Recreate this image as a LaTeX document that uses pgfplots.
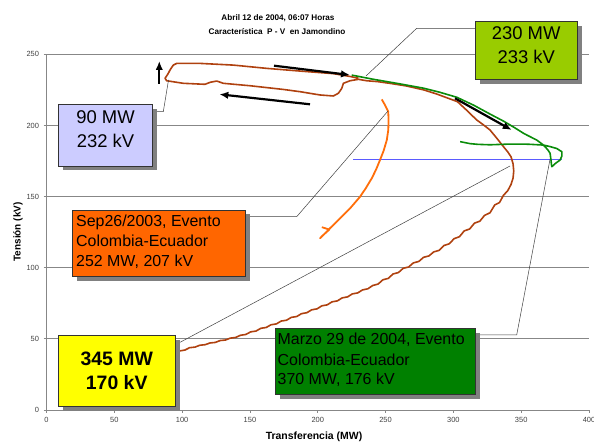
\documentclass[border=0pt]{standalone}
\usepackage{pgfplots}
\pgfplotsset{compat=1.18}
\usepackage{fontspec}
\setmainfont{Liberation Sans}
\usetikzlibrary{arrows.meta}
\definecolor{brownc}{RGB}{175,65,15}
\definecolor{greenc}{RGB}{10,140,10}
\definecolor{orangec}{RGB}{255,110,10}
\definecolor{bluec}{RGB}{90,90,255}
\definecolor{lav}{RGB}{204,204,255}
\definecolor{lime}{RGB}{153,204,0}
\definecolor{orbox}{RGB}{255,102,0}
\definecolor{ybox}{RGB}{255,255,0}
\definecolor{gbox}{RGB}{0,128,0}
\definecolor{shad}{RGB}{128,128,128}
\definecolor{gridc}{RGB}{135,135,135}
\begin{document}
\begin{tikzpicture}[x=1bp,y=1bp]
\path[use as bounding box] (0,0) rectangle (594,442);
\begin{axis}[
  at={(46.5bp,32bp)}, anchor=south west, scale only axis,
  width=542.5bp, height=355.7bp,
  xmin=0, xmax=400, ymin=0, ymax=250,
  xtick={0,50,...,400}, ytick={0,50,...,250},
  ymajorgrids, major grid style={gridc, line width=0.8bp},
  axis x line*=bottom, axis y line*=left,
  axis line style={gridc, line width=0.8bp},
  tick align=outside, major tick length=3bp, tick style={gridc, line width=0.8bp},
  /pgf/number format/assume math mode=true,
  ticklabel style={font=\fontsize{7.5}{8}\selectfont, text=black!75},
  yticklabel style={xshift=-1bp},
  xticklabel style={yshift=-1bp},
]
% blue reference line
\addplot[bluec, line width=1.3bp] coordinates {(226,176) (380,176)};
% Abril 12 2004 (brown)
\addplot[brownc, line width=1.6bp, line join=round] coordinates {
(98,41.5)(102,42.1)(105.5,43.8)(109.5,44.2)(113,45.5)(117,45.9)
(120.5,47.1)(124.5,47.5)(128,48.8)(132,49.2)(135.5,50.5)(139.5,51)
(143,52.5)(147,53.1)(150.5,54.9)(154.5,55.5)(158,57.4)(162,58)
(165.5,59.9)(169.5,60.5)(173,62.5)(177,63.1)(180.5,65.1)(184.5,65.7)
(188,67.7)(192,68.4)(195.5,70.4)(199.5,71.1)(203,73.2)(207,73.9)
(210.5,76.0)(214.5,76.7)(218,78.8)(222,79.5)(225.5,81.6)(229.5,82.3)
(233,84.4)(237,85.2)(240.5,87.5)(244.5,88.5)(248,91.5)(252,92.5)
(255.5,95.6)(259.5,96.6)(263,99.6)(267,100.5)(270.5,103.4)(274.5,104.4)
(278,107.3)(282,108.3)(285.5,111.1)(289.5,112.2)(293,115.6)(297,116.8)
(300.5,120.4)(304.5,121.8)(308,125.9)(312,127.2)(315.5,131.3)(319.5,132.7)
(323,136.8)(327,138.6)(330.5,144.1)(334,145.8)(337,151)
(340,154)(342.5,158.5)(344,163)(344.5,168)(344,173)(342.5,178)(340,181.5)
(337,185)(332,191)(327,196.8)(322,200.5)(317,204)(310,210.5)(303,216.7)
(295,219.5)(288,222)(278,225)(265,227.8)(253,229.6)(244,230.8)(236.1,231.4)
(230,232.4)(223.8,231.4)(218.9,229.6)(217.7,226)(215.2,222.6)(211.5,220.7)
(201.7,221.4)(187,223.7)(174.6,225.3)(150,227.9)(130.4,229.6)(125.5,231.2)
(120.6,230.3)(116.9,228.9)(100.9,229.6)(88.6,231.4)(87.4,233.1)(89.8,236.6)
(91.1,239)(93.5,242.4)(96,243.6)(113.2,243.6)(137.8,242.4)(162.4,240.1)
(187,238.2)(211.5,236.4)(223.8,234.4)(230,233.2)};
% Marzo 29 2004 (green)
\addplot[greenc, line width=1.6bp, line join=round] coordinates {
(225,235.4)(240,232.6)(260,229.3)(277.9,226.2)(290,223.3)(302.5,219.8)
(315,214.2)(327,208)(337,203)(345,198.5)(352,194.3)(361.5,189.7)
(366.4,186.2)(369.5,183)(371.3,180.4)(372,175.5)(372.3,172.5)(372.6,171)
(375.5,173.5)(378.7,175.7)(380,178.5)(380,181.5)(376.2,183.8)(371,185.2)
(366.4,186.2)(355,186.8)(341.8,186.9)(327,186.4)(318,186.7)(312.3,187.2)
(305,188.6)};
% Sep 26 2003 (orange)
\addplot[orangec, line width=1.8bp, line join=round] coordinates {
(247.2,218.3)(249.6,214.3)(252,209.6)(252.2,203)(252,196.8)(250.9,189.7)
(248.5,182)(245.9,175.7)(243,169)(239.8,162.8)(235.5,156)(231.2,149.9)
(223.8,141.7)(216.4,134.7)(209,127.7)(202.9,121.8)(201.7,120.7)
(203.5,122.5)(208.5,126.8)(203,128.5)};
\end{axis}
% title
\node[anchor=base, inner sep=0, font=\bfseries\fontsize{8.2}{10}\selectfont] at (278,421) {Abril 12 de 2004, 06:07 Horas};
\node[anchor=base, inner sep=0, font=\bfseries\fontsize{8.2}{10}\selectfont] at (277,407.7) {Característica\ \ P - V\ \ en Jamondino};
% axis labels
\node[rotate=90, anchor=base, inner sep=0, font=\bfseries\fontsize{10}{12}\selectfont] at (20.5,210) {Tensión (kV)};
\node[anchor=base, inner sep=0, font=\bfseries\fontsize{10.5}{12}\selectfont] at (314,2.6) {Transferencia (MW)};
% arrows
\begin{scope}[line width=2.2bp, -{Latex[length=9bp,width=7.5bp]}]
\draw (159.3,358) -- (159.3,381);
\draw (274,376.3) -- (350,367);
\draw (310,337.7) -- (219.3,347.7);
\draw (455,343.7) -- (511.7,312);
\end{scope}
% callouts
\begin{scope}[black!75, line width=0.5bp]
\draw (152.7,330.3) -- (163.3,330.3) -- (168.5,362);
\draw (475,413.7) -- (416.7,413.7) -- (366,366);
\draw (245,225.3) -- (296.7,225.3) -- (388,331);
\draw (175,97) -- (510,276);
\draw (475.7,107) -- (516.7,107) -- (550,282.7);
\end{scope}
% boxes
\newcommand{\bx}[5]{%
 \fill[shad] (#1+4.5,#2-4.5) rectangle (#3+4.5,#4-4.5);
 \filldraw[fill=#5, draw=black!80, line width=0.8bp] (#1,#2) rectangle (#3,#4);}
\bx{58.3}{276}{152.7}{337.7}{lav}
\bx{475}{362.7}{577.3}{420.3}{lime}
\bx{72.7}{165.3}{245}{232}{orbox}
\bx{58.3}{35.3}{175}{106.3}{ybox}
\bx{275}{47.7}{475.7}{113.7}{gbox}
\begin{scope}[every node/.style={inner sep=0}]
\node[anchor=base, font=\fontsize{18.5}{20}\selectfont] at (105.5,318.7) {90 MW};
\node[anchor=base, font=\fontsize{18.5}{20}\selectfont] at (105.5,294.7) {232 kV};
\node[anchor=base, font=\fontsize{18.5}{20}\selectfont] at (526.2,402) {230 MW};
\node[anchor=base, font=\fontsize{18.5}{20}\selectfont] at (526.2,378) {233 kV};
\node[anchor=base west, font=\fontsize{16}{18}\selectfont] at (76,215.3) {Sep26/2003, Evento};
\node[anchor=base west, font=\fontsize{16}{18}\selectfont] at (76,195.3) {Colombia-Ecuador};
\node[anchor=base west, font=\fontsize{16}{18}\selectfont] at (76,175.3) {252 MW, 207 kV};
\node[anchor=base, font=\bfseries\fontsize{19.5}{21}\selectfont] at (116.7,76.3) {345 MW};
\node[anchor=base, font=\bfseries\fontsize{19.5}{21}\selectfont] at (116.7,52.7) {170 kV};
\node[anchor=base west, font=\fontsize{16}{18}\selectfont] at (277.5,97) {Marzo 29 de 2004, Evento};
\node[anchor=base west, font=\fontsize{16}{18}\selectfont] at (277.5,76.3) {Colombia-Ecuador};
\node[anchor=base west, font=\fontsize{16}{18}\selectfont] at (277.5,57) {370 MW, 176 kV};
\end{scope}
\end{tikzpicture}
\end{document}
